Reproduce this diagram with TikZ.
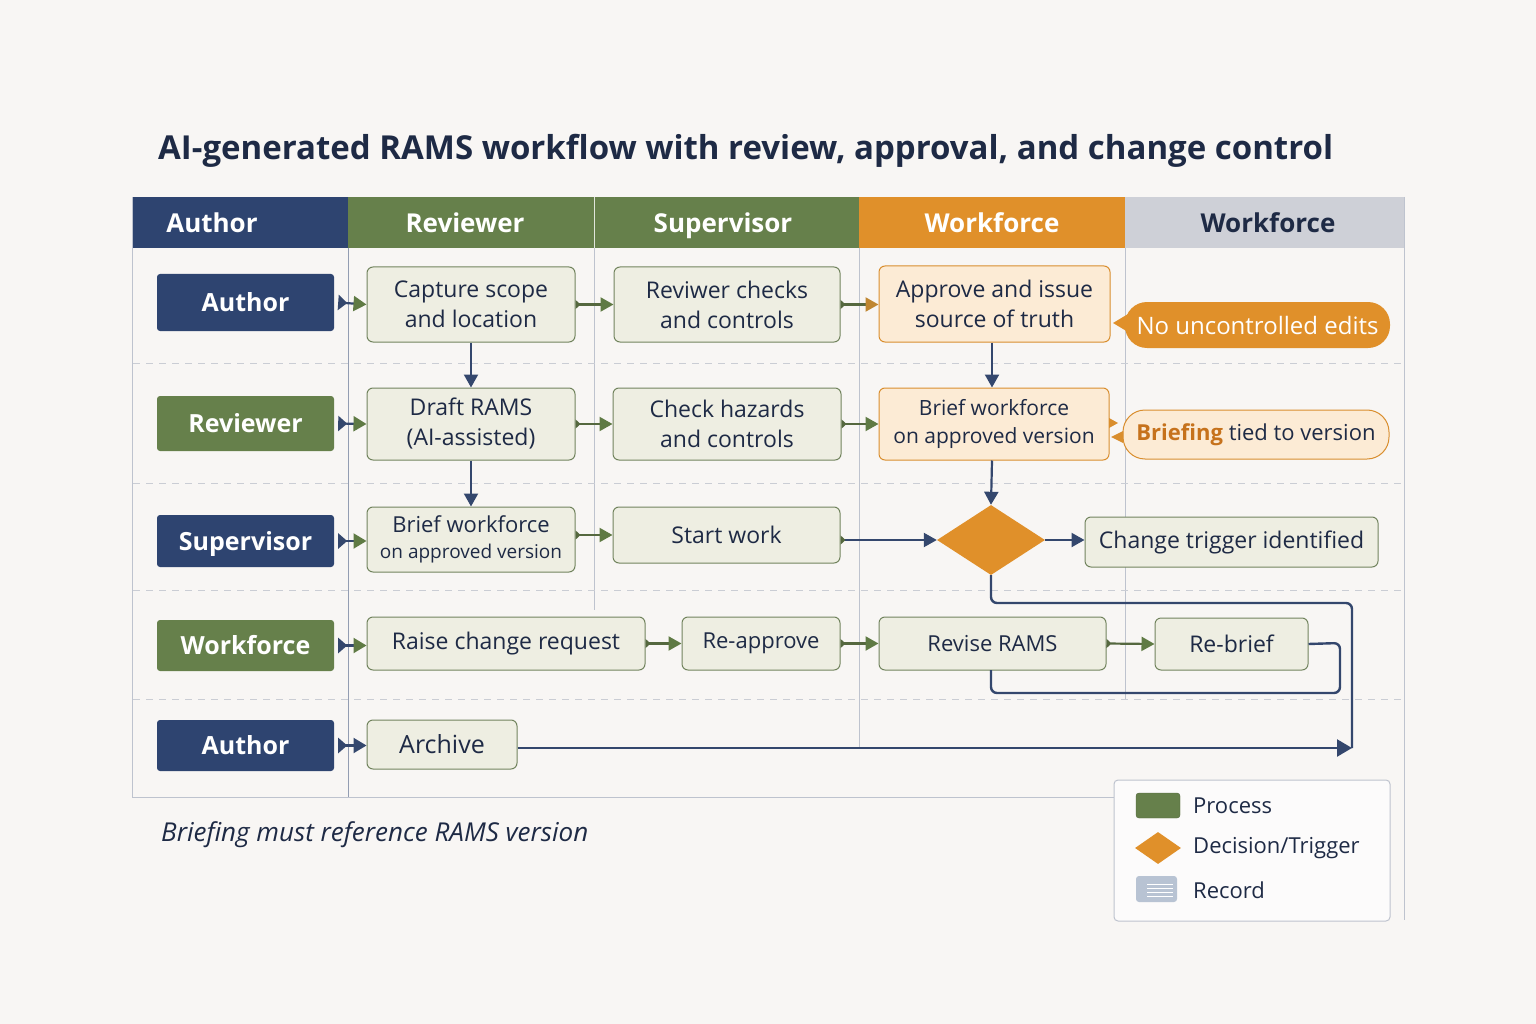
\documentclass[tikz,border=0pt]{standalone}
\usepackage{fontspec}
\setmainfont{Open Sans}
\usetikzlibrary{arrows.meta,shapes.geometric,calc}
\definecolor{bgc}{HTML}{F8F6F4}
\definecolor{navy}{HTML}{2E4470}
\definecolor{grn}{HTML}{66804B}
\definecolor{org}{HTML}{E0902A}
\definecolor{graycol}{HTML}{CED0D7}
\definecolor{ink}{HTML}{1E2A45}
\definecolor{procfill}{HTML}{EEEEE2}
\definecolor{procline}{HTML}{72845E}
\definecolor{ofill}{HTML}{FCEBD5}
\definecolor{oline}{HTML}{D98E2E}
\definecolor{otext}{HTML}{C6721C}
\definecolor{gridl}{HTML}{BEC3CE}
\definecolor{dashl}{HTML}{CACDD4}
\definecolor{flowg}{HTML}{55683F}
\definecolor{headg}{HTML}{5F7A44}
\definecolor{flown}{HTML}{34476D}
\definecolor{recc}{HTML}{B8C3D3}
\tikzset{
  lane/.style={rounded corners=3pt, minimum width=177pt, text=white, inner sep=0pt,
    text height=20pt, text depth=2pt, font=\fontsize{25}{30}\selectfont\bfseries},
  proc/.style={draw=procline, fill=procfill, rounded corners=6pt, line width=1pt, text=ink,
    align=center, inner sep=0pt, font=\fontsize{23}{30}\selectfont},
  oproc/.style={proc, draw=oline, fill=ofill},
  hdr/.style={font=\fontsize{26}{30}\selectfont\bfseries, text=white, text height=21pt, text depth=2pt, inner sep=0pt},
  gflow/.style={draw=flowg, line width=2.2pt,
    {Triangle[reversed,length=5pt,width=9pt,color=flowg]}-{Triangle[length=13pt,width=14pt,color=headg]}},
  nflow/.style={draw=flown, line width=2.2pt, -{Triangle[length=13pt,width=14pt,color=flown]}},
  laneflow/.style={draw=flown, line width=2.2pt,
    {Triangle[reversed,length=9pt,width=15pt,color=flown]}-{Triangle[length=13pt,width=15pt,color=headg]}},
  loopline/.style={draw=flown, line width=2.4pt, rounded corners=6pt},
}
\begin{document}
\begin{tikzpicture}[x=1pt,y=-1pt]
\useasboundingbox (0,0) rectangle (1536,1024);
\fill[bgc] (0,0) rectangle (1536,1024);

% title
\node[anchor=base west, text=ink, font=\fontsize{33}{36}\selectfont\bfseries, inner sep=0pt] (title) at (158,160)
  {AI-generated RAMS workflow with review, approval, and change control};

% header band
\fill[navy] (132,197) rectangle (348,248);
\fill[grn] (348,197) rectangle (594,248);
\fill[grn] (594,197) rectangle (859,248);
\fill[org] (859,197) rectangle (1125,248);
\fill[graycol] (1125,197) rectangle (1404,248);
\draw[white!80!grn, line width=0.6pt] (594,197) -- (594,248);
\node[hdr] (hA) at (212,223) {Author};
\node[hdr] (hR) at (465,223) {Reviewer};
\node[hdr] (hS) at (723,223) {Supervisor};
\node[hdr] (hW) at (992,223) {Workforce};
\node[hdr, text=ink] (hW2) at (1268,223) {Workforce};

% grid
\draw[gridl, line width=1pt] (132,197) -- (132,797) -- (1114,797);
\draw[gridl, line width=1pt] (1404,197) -- (1404,920);
\draw[gridl!70!navy, line width=0.9pt] (348,248) -- (348,797);
\draw[gridl, line width=0.8pt] (594,248) -- (594,610);
\draw[gridl, line width=0.8pt] (859,248) -- (859,748);
\draw[gridl, line width=0.8pt] (1125,248) -- (1125,700);
\foreach \yy in {363,483,590,699}
  \draw[dashl, line width=1pt, dash pattern=on 7pt off 6pt] (133,\yy) -- (1403,\yy);

% lane labels
\node[lane, fill=navy, minimum height=57pt] (lA1) at (245.5,302.5) {Author};
\node[lane, fill=grn, minimum height=55pt] (lR) at (245.5,423.5) {Reviewer};
\node[lane, fill=navy, minimum height=52pt] (lS) at (245.5,541) {Supervisor};
\node[lane, fill=grn, minimum height=51pt] (lW) at (245.5,645.5) {Workforce};
\node[lane, fill=navy, minimum height=51pt] (lA2) at (245.5,745.5) {Author};

% process boxes
\node[proc, minimum width=208pt, minimum height=75pt] (capture) at (471,304.5) {Capture scope\\and location};
\node[proc, minimum width=226pt, minimum height=75pt] (rcheck) at (727,304.5) {Reviwer checks\\and controls};
\node[oproc, minimum width=231pt, minimum height=76pt] (approve) at (994.5,304) {Approve and issue\\source of truth};
\node[proc, minimum width=208pt, minimum height=72pt] (draft) at (471,424) {Draft RAMS\\(AI-assisted)};
\node[proc, minimum width=228pt, minimum height=72pt] (check) at (727,424) {Check hazards\\and controls};
\node[oproc, minimum width=230pt, minimum height=72pt, font=\fontsize{21}{28}\selectfont] (brief2) at (994,424) {Brief workforce\\on approved version};
\node[proc, minimum width=208pt, minimum height=65pt, font=\fontsize{22}{26}\selectfont] (brief1) at (471,539.5) {Brief workforce\\{\fontsize{19}{24}\selectfont on approved version}};
\node[proc, minimum width=227pt, minimum height=56pt] (start) at (726.5,535) {Start work};
\node[diamond, fill=org, minimum width=108pt, minimum height=70pt, inner sep=0pt] (dia) at (991,540) {};
\node[proc, minimum width=293pt, minimum height=50pt] (trig) at (1231.5,542) {Change trigger identified};
\node[proc, minimum width=278pt, minimum height=53pt] (raise) at (506,643.5) {Raise change request};
\node[proc, minimum width=158pt, minimum height=53pt, font=\fontsize{22}{28}\selectfont] (reapp) at (761,643.5) {Re-approve};
\node[proc, minimum width=227pt, minimum height=53pt, font=\fontsize{22}{28}\selectfont] (revise) at (992.5,643.5) {Revise RAMS};
\node[proc, minimum width=153pt, minimum height=52pt] (rebrief) at (1231.5,644) {Re-brief};
\node[proc, minimum width=150pt, minimum height=49pt, font=\fontsize{25}{30}\selectfont] (archive) at (442,744.5) {Archive};

% callouts
\fill[org] (1113,323) -- (1128,314) -- (1128,332) -- cycle;
\node[fill=org, rounded corners=22pt, minimum width=265pt, minimum height=46pt, text=white, inner sep=0pt,
  font=\fontsize{24}{28}\selectfont] (nue) at (1257.5,325) {No uncontrolled edits};
\node[fill=ofill, draw=oline, line width=1pt, rounded corners=22pt, minimum width=266pt, minimum height=49pt, text=ink, inner sep=0pt,
  font=\fontsize{22}{26}\selectfont] (btv) at (1256,434.5) {{\color{otext}\bfseries Briefing} tied to version};
\fill[oline] (1118,423) -- (1109,418) -- (1109,428) -- cycle;
\fill[oline] (1111,437) -- (1123,431) -- (1123,443) -- cycle;

% lane arrows
\draw[laneflow] (lA1.east) ++(4pt,0) -- (capture.west);
\draw[laneflow] (lR.east) ++(4pt,0) -- (draft.west);
\draw[laneflow] (lS.east) ++(4pt,0) -- (brief1.west|-lS.east);
\draw[laneflow] (lW.east) ++(4pt,0) -- (raise.west|-lW.east);
\draw[laneflow, {Triangle[reversed,length=9pt,width=15pt,color=flown]}-{Triangle[length=13pt,width=15pt,color=flown]}] (lA2.east) ++(4pt,0) -- (archive.west|-lA2.east);

% horizontal flows
\draw[gflow] (capture.east) -- (rcheck.west);
\draw[gflow, {Triangle[reversed,length=5pt,width=9pt,color=flowg]}-{Triangle[length=13pt,width=14pt,color=oline!80!flowg]}] (rcheck.east) -- (approve.west|-rcheck.east);
\draw[gflow] (draft.east) -- (check.west);
\draw[gflow] (check.east) -- (brief2.west);
\draw[gflow] (brief1.east|-start.east) -- (start.west);
\draw[gflow] (raise.east) -- (reapp.west);
\draw[gflow] (reapp.east) -- (revise.west);
\draw[gflow] (revise.east) -- (rebrief.west);
\draw[nflow, {Triangle[reversed,length=5pt,width=9pt,color=flowg]}-{Triangle[length=13pt,width=14pt,color=flown]}] (start.east|-dia.west) -- (dia.west);
\draw[nflow] (dia.east) -- (trig.west|-dia.east);

% vertical flows
\draw[nflow] (capture.south) -- (draft.north);
\draw[nflow] (draft.south) -- (brief1.north);
\draw[nflow] ($(approve.south)+(-2.5,0)$) -- ($(brief2.north)+(-2,0)$);
\draw[nflow] ($(brief2.south)+(-2,0)$) -- (dia.north);

% loops
\coordinate (join) at (1352,748);
\draw[loopline] (dia.south) -- (991,603) -- (1352,603) -- (join);
\draw[nflow, line width=2.4pt, -{Triangle[length=15pt,width=17pt,color=flown]}] (archive.east|-join) -- (join);
\draw[loopline] (rebrief.east) -- (1340,643) -- (1340,693) -- (991,693) -- (991,670);

% legend
\node[draw=gridl, fill=white!60!bgc, rounded corners=4pt, line width=1pt, minimum width=276pt, minimum height=141pt, inner sep=0pt] (legend) at (1252,850.5) {};
\node[fill=grn, draw=grn!80!black, rounded corners=3pt, minimum width=44pt, minimum height=25pt, inner sep=0pt] (lgP) at (1158,805.5) {};
\node[diamond, fill=org, minimum width=46pt, minimum height=32pt, inner sep=0pt] (lgD) at (1158,848) {};
\node[fill=recc, rounded corners=3pt, minimum width=41pt, minimum height=26pt, inner sep=0pt] (lgR) at (1156.5,889) {};
\foreach \yy in {884,888,892,896} \draw[white, line width=1pt] (1147,\yy) -- (1173,\yy);
\node[anchor=west, text=ink, font=\fontsize{22}{26}\selectfont, inner sep=0pt] (tP) at (1193,806) {Process};
\node[anchor=west, text=ink, font=\fontsize{22}{26}\selectfont, inner sep=0pt] (tD) at (1193,848) {Decision/Trigger};
\node[anchor=west, text=ink, font=\fontsize{22}{26}\selectfont, inner sep=0pt] (tR) at (1193,890) {Record};

% footnote
\node[anchor=base west, text=ink, font=\fontsize{26}{30}\selectfont\itshape, inner sep=0pt] (foot) at (161,841) {Briefing must reference RAMS version};
\end{tikzpicture}
\end{document}
